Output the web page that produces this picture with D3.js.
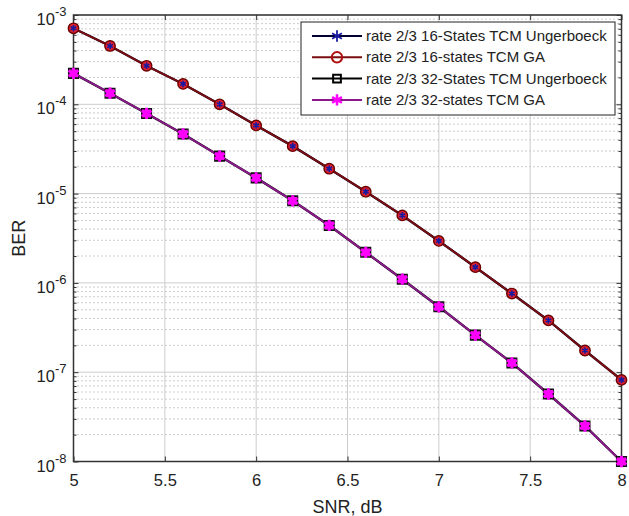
<!DOCTYPE html>
<html><head><meta charset="utf-8">
<script src="https://cdn.jsdelivr.net/npm/d3@7"></script>
<style>
body{margin:0;background:#fff;}
text{font-family:"Liberation Sans",Arial,Helvetica,sans-serif;fill:#222;}
</style></head>
<body><svg id="c" width="629" height="516"></svg>
<script>
const snr = [5.0,5.2,5.4,5.6,5.8,6.0,6.2,6.4,6.6,6.8,7.0,7.2,7.4,7.6,7.8,8.0];
const ber16Ung = [7.1e-4,4.5e-4,2.7e-4,1.69e-4,1.0e-4,5.8e-5,3.4e-5,1.9e-5,1.05e-5,5.7e-6,2.95e-6,1.5e-6,7.6e-7,3.8e-7,1.75e-7,8.2e-8];
const ber16GA  = [7.1e-4,4.5e-4,2.7e-4,1.69e-4,1.0e-4,5.8e-5,3.4e-5,1.9e-5,1.05e-5,5.7e-6,2.95e-6,1.5e-6,7.6e-7,3.8e-7,1.75e-7,8.2e-8];
const ber32Ung = [2.22e-4,1.33e-4,7.9e-5,4.65e-5,2.63e-5,1.5e-5,8.3e-6,4.4e-6,2.2e-6,1.1e-6,5.4e-7,2.6e-7,1.27e-7,5.7e-8,2.5e-8,1.0e-8];
const ber32GA  = [2.22e-4,1.33e-4,7.9e-5,4.65e-5,2.63e-5,1.5e-5,8.3e-6,4.4e-6,2.2e-6,1.1e-6,5.4e-7,2.6e-7,1.27e-7,5.7e-8,2.5e-8,1.0e-8];
const seriesNames = ["rate 2/3 16-States TCM Ungerboeck","rate 2/3 16-states TCM GA","rate 2/3 32-States TCM Ungerboeck","rate 2/3 32-states TCM GA"];
const xTicks = [5,5.5,6,6.5,7,7.5,8];
const yExps = [-3,-4,-5,-6,-7,-8];

const svg = d3.select("#c");
const L=73.5, R=621.5, T=15, B=461.5;
const x = d3.scaleLinear().domain([5,8]).range([L,R]);
const y = d3.scaleLog().domain([1e-8,1e-3]).range([B,T]);

const minors=[];
for(let e=-8;e<-3;e++) for(let k=2;k<=9;k++) minors.push(k*Math.pow(10,e));
const g = svg.append("g");
g.selectAll(".mg").data(minors).join("line")
 .attr("x1",L).attr("x2",R).attr("y1",d=>y(d)).attr("y2",d=>y(d))
 .attr("stroke","#999").attr("stroke-width",1).attr("stroke-dasharray","1,3");
g.selectAll(".gy").data(yExps.map(e=>Math.pow(10,e))).join("line")
 .attr("x1",L).attr("x2",R).attr("y1",d=>y(d)).attr("y2",d=>y(d))
 .attr("stroke","#ccc").attr("stroke-width",1);
g.selectAll(".gx").data(xTicks).join("line")
 .attr("x1",d=>x(d)).attr("x2",d=>x(d)).attr("y1",T).attr("y2",B)
 .attr("stroke","#ccc").attr("stroke-width",1);

const axB = d3.axisBottom(x).tickValues(xTicks).tickSize(-5).tickFormat(d=>d3.format("")(d)).tickPadding(13);
const axT = d3.axisTop(x).tickValues(xTicks).tickSize(-5).tickFormat("");
const gb = svg.append("g").attr("transform",`translate(0,${B})`).call(axB);
svg.append("g").attr("transform",`translate(0,${T})`).call(axT);
const yMaj = yExps.map(e=>Math.pow(10,e));
svg.append("g").attr("transform",`translate(${L},0)`).call(d3.axisLeft(y).tickValues(yMaj).tickSize(-5).tickFormat(""));
svg.append("g").attr("transform",`translate(${R},0)`).call(d3.axisRight(y).tickValues(yMaj).tickSize(-5).tickFormat(""));
svg.append("g").attr("transform",`translate(${L},0)`).call(d3.axisLeft(y).tickValues(minors).tickSize(-3).tickFormat(""));
svg.append("g").attr("transform",`translate(${R},0)`).call(d3.axisRight(y).tickValues(minors).tickSize(-3).tickFormat(""));
svg.selectAll(".domain").remove();
svg.selectAll(".tick line").attr("stroke","#333");
gb.selectAll("text").attr("font-size",16.5).attr("fill","#222")
  .style("font-family",'"Liberation Sans",Arial,sans-serif');
svg.append("rect").attr("x",L).attr("y",T).attr("width",R-L).attr("height",B-T)
 .attr("fill","none").attr("stroke","#333").attr("stroke-width",1.5);

yExps.forEach(e=>{
  const t = svg.append("text").attr("x",L-7).attr("y",y(Math.pow(10,e))+10)
    .attr("text-anchor","end").attr("font-size",16.5);
  t.append("tspan").text("10");
  t.append("tspan").attr("dy",-9).attr("font-size",13).text(String(e));
});

svg.append("text").attr("x",(L+R)/2).attr("y",513).attr("text-anchor","middle")
  .attr("font-size",18).text("SNR, dB");
svg.append("text").attr("transform",`translate(25,${(T+B)/2}) rotate(-90)`)
  .attr("text-anchor","middle").attr("font-size",18).text("BER");

const line = d3.line().x((d,i)=>x(snr[i])).y(d=>y(d));
function drawLine(data,color,w){ svg.append("path").datum(data).attr("d",line)
  .attr("fill","none").attr("stroke",color).attr("stroke-width",w); }
drawLine(ber16Ung,"#000033",2.4);
drawLine(ber32Ung,"#000000",2.4);
drawLine(ber16GA,"#7a0d0d",2);
drawLine(ber32GA,"#8a1a8a",2);

const sq = d3.symbol(d3.symbolSquare,90)();
const ast = d3.symbol(d3.symbolAsterisk,90)();
const astS = d3.symbol(d3.symbolAsterisk,30)();
const circ = d3.symbol(d3.symbolCircle,85)();
function markers(data,path,fill,stroke,sw){
  svg.append("g").selectAll("path").data(data).join("path")
   .attr("transform",(d,i)=>`translate(${x(snr[i])},${y(d)})`)
   .attr("d",path).attr("fill",fill).attr("stroke",stroke).attr("stroke-width",sw);
}
markers(ber32Ung,sq,"#d020d0","#111",1.6);
markers(ber32GA,ast,"none","#ff00ff",3);
markers(ber16GA,circ,"#e0202a","#6a0000",1.4);
markers(ber16Ung,astS,"none","#1a1aa0",1.6);

const lg = svg.append("g");
lg.append("rect").attr("x",301).attr("y",22).attr("width",314).attr("height",93)
  .attr("fill","#fff").attr("stroke","#222").attr("stroke-width",1);
const legSty = [
  {line:"#000033",sym:ast,fill:"none",stroke:"#1a1aa0",sw:1.8},
  {line:"#7a0d0d",sym:circ,fill:"none",stroke:"#b01010",sw:2},
  {line:"#000000",sym:d3.symbol(d3.symbolSquare,60)(),fill:"none",stroke:"#000",sw:2},
  {line:"#8a1a8a",sym:ast,fill:"none",stroke:"#ff00ff",sw:2.5}
];
seriesNames.forEach((n,i)=>{
  const yy = 36 + i*21.3;
  lg.append("line").attr("x1",312).attr("x2",362).attr("y1",yy).attr("y2",yy)
    .attr("stroke",legSty[i].line).attr("stroke-width",2);
  lg.append("path").attr("transform",`translate(337,${yy})`).attr("d",legSty[i].sym)
    .attr("fill",legSty[i].fill).attr("stroke",legSty[i].stroke).attr("stroke-width",legSty[i].sw);
  lg.append("text").attr("x",366).attr("y",yy+5).attr("font-size",15).text(n);
});
</script></body></html>
